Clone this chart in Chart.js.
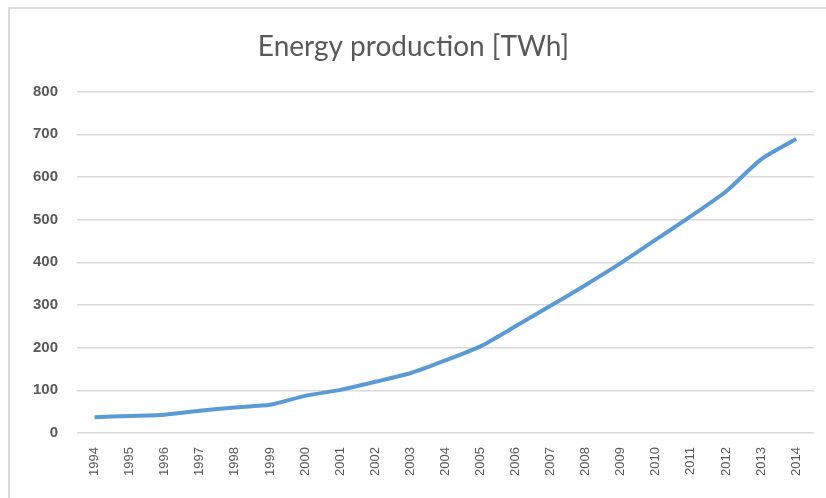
<!DOCTYPE html>
<html>
<head>
<meta charset="utf-8">
<script src="https://cdn.jsdelivr.net/npm/chart.js@4/dist/chart.umd.min.js"></script>
<style>
    body { margin: 0; background: #fff; }
    #wrap { position: relative; width: 826px; height: 498px; }
    #frame { position: absolute; left: 8px; top: 7px; width: 840px; height: 520px; border: 2px solid #dcdcdc; box-sizing: border-box; }
    canvas { position: absolute; left: 0; top: 0; }
</style>
</head>
<body>
<div id="wrap">
    <div id="frame"></div>
    <canvas id="chart" width="826" height="498"></canvas>
</div>
<script>
var years = ['1994', '1995', '1996', '1997', '1998', '1999', '2000', '2001', '2002', '2003', '2004',
    '2005', '2006', '2007', '2008', '2009', '2010', '2011', '2012', '2013', '2014'];
var production = [37, 40, 43, 52, 60, 66, 87, 101, 120, 140, 170,
    203, 250, 298, 347, 398, 453, 508, 566, 641, 689];
var yTicks = [0, 100, 200, 300, 400, 500, 600, 700, 800];

var ctx = document.getElementById("chart").getContext("2d");
var chart = new Chart(ctx, {
    type: 'line',
    data: {
        labels: years,
        datasets: [{
            data: production,
            borderColor: '#5b9bd5',
            borderWidth: 4,
            pointRadius: 0,
            tension: 0.2,
            fill: false
        }]
    },
    options: {
        responsive: false,
        animation: false,
        layout: { padding: { left: 12, right: 11, top: 0, bottom: 0 } },
        plugins: {
            legend: { display: false },
            tooltip: { enabled: false },
            title: {
                display: true,
                text: 'Energy production [TWh]',
                color: '#595959',
                font: { family: 'Lato', size: 28, weight: 'normal' },
                padding: { top: 30, bottom: 28 }
            }
        },
        scales: {
            x: {
                offset: true,
                grid: { display: false, drawTicks: false },
                border: { display: false },
                ticks: {
                    color: '#595959',
                    font: { family: 'Liberation Sans', size: 13 },
                    minRotation: 90,
                    maxRotation: 90,
                    padding: 14,
                    autoSkip: false
                },
                afterFit: function(scale) { scale.height = 65; }
            },
            y: {
                min: 0,
                max: 800,
                afterBuildTicks: function(scale) {
                    scale.ticks = yTicks.map(function(v) { return { value: v }; });
                },
                grid: { color: '#d9d9d9', lineWidth: 1.5, drawTicks: false },
                border: { display: false },
                ticks: {
                    color: '#595959',
                    font: { family: 'Liberation Sans', size: 15, weight: 'bold' },
                    padding: 19
                },
                afterFit: function(scale) { scale.width = 65; }
            }
        }
    }
});
</script>
</body>
</html>
